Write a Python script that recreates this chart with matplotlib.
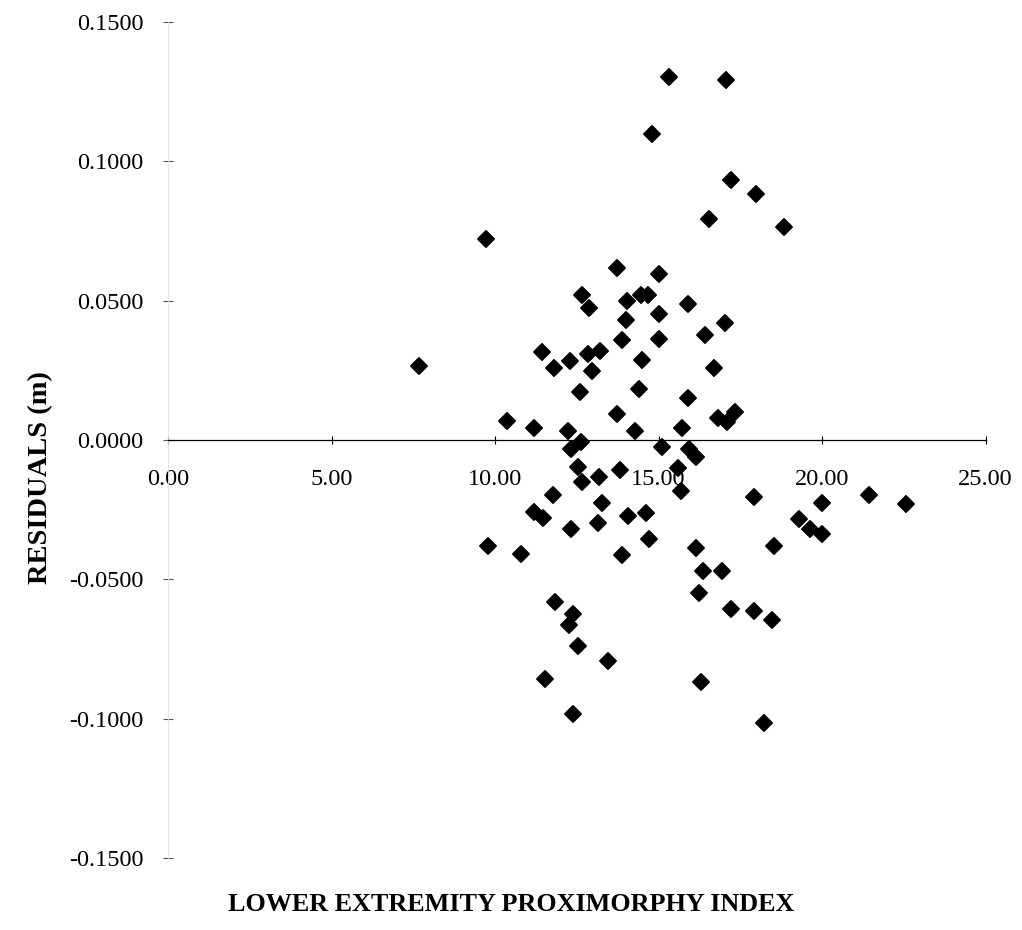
import matplotlib
matplotlib.use("Agg")
import matplotlib.pyplot as plt
from matplotlib.markers import MarkerStyle
from matplotlib.ticker import FormatStrFormatter

plt.rcParams["font.family"] = ["Liberation Serif", "DejaVu Serif"]
plt.rcParams["axes.unicode_minus"] = False

# lower extremity proximorphy index for each subject
proximorphy = [
    15.32, 17.06, 14.80, 17.22, 17.98, 16.54, 18.84, 9.72, 13.73, 15.02,
    12.66, 12.87, 14.04, 14.46, 14.68, 15.02, 14.01, 15.90, 17.03, 16.42,
    13.88, 15.02, 11.44, 12.29, 11.80, 12.84, 13.21, 12.97, 14.50, 16.70,
    7.68, 12.60, 14.40, 15.90, 16.82, 17.09, 17.34, 10.37, 11.19, 12.23,
    13.73, 14.28, 15.72, 12.63, 12.32, 15.11, 15.93, 16.15, 12.54, 12.66,
    13.18, 13.82, 15.60, 15.69, 11.77, 13.27, 11.19, 11.47, 14.07, 14.62,
    12.32, 13.15, 14.71, 9.79, 10.80, 13.88, 17.92, 20.00, 21.44, 22.57,
    19.30, 19.63, 20.00, 16.15, 18.53, 16.36, 16.94, 16.24, 17.22, 17.92,
    18.47, 11.83, 12.39, 12.26, 12.54, 13.46, 11.53, 12.39, 16.30, 18.23,
]

# regression residuals in metres
residuals = [
    0.1303, 0.1292, 0.1098, 0.0933, 0.0883, 0.0793, 0.0765, 0.0721, 0.0617, 0.0596,
    0.0520, 0.0474, 0.0499, 0.0520, 0.0520, 0.0452, 0.0431, 0.0488, 0.0420, 0.0377,
    0.0359, 0.0363, 0.0316, 0.0284, 0.0258, 0.0309, 0.0319, 0.0248, 0.0287, 0.0258,
    0.0266, 0.0172, 0.0183, 0.0151, 0.0079, 0.0065, 0.0101, 0.0068, 0.0043, 0.0032,
    0.0093, 0.0032, 0.0043, -0.0007, -0.0032, -0.0025, -0.0032, -0.0061, -0.0097, -0.0151,
    -0.0133, -0.0108, -0.0101, -0.0183, -0.0197, -0.0226, -0.0258, -0.0280, -0.0273, -0.0262,
    -0.0319, -0.0298, -0.0355, -0.0380, -0.0409, -0.0413, -0.0205, -0.0226, -0.0197, -0.0230,
    -0.0284, -0.0319, -0.0337, -0.0388, -0.0380, -0.0470, -0.0470, -0.0549, -0.0607, -0.0614,
    -0.0646, -0.0581, -0.0625, -0.0664, -0.0739, -0.0793, -0.0858, -0.0983, -0.0869, -0.1016,
]

x_ticks = [0, 5, 10, 15, 20, 25]
y_ticks = [-0.15, -0.10, -0.05, 0.0, 0.05, 0.10, 0.15]


def plot_residuals(x_values, y_values):
    fig = plt.figure(figsize=(10.22, 9.30), dpi=100)
    ax = fig.add_axes([0.1644, 0.0774, 0.8, 0.8989])

    # diamonds with slightly rounded corners
    diamond = MarkerStyle("D", joinstyle="round")
    ax.plot(x_values, y_values, linestyle="none", marker=diamond, markersize=8.0,
            color="black", markeredgewidth=1.4, markeredgecolor="black")

    ax.set_xlim(0, 25)
    ax.set_ylim(-0.15, 0.15)

    # horizontal axis sits on zero, the vertical one is barely visible
    ax.spines["bottom"].set_position(("data", 0))
    ax.spines["bottom"].set_linewidth(0.9)
    ax.spines["left"].set_color("#e2e2e2")
    ax.spines["left"].set_linewidth(0.6)
    ax.spines["top"].set_visible(False)
    ax.spines["right"].set_visible(False)

    ax.set_xticks(x_ticks)
    ax.set_yticks(y_ticks)
    ax.xaxis.set_major_formatter(FormatStrFormatter("%.2f"))
    ax.yaxis.set_major_formatter(FormatStrFormatter("%.4f"))
    ax.tick_params(axis="x", direction="inout", length=6, width=0.8, pad=18,
                   labelsize=17.5)
    ax.tick_params(axis="y", direction="inout", length=7, width=0.8, pad=14,
                   labelsize=17.5, color="#555555")

    # axis titles
    fig.text(0.040, 0.486, "RESIDUALS (m)", rotation=90, ha="center",
             va="center", fontsize=20.5, fontweight="bold")
    fig.text(0.5, 0.027, "LOWER EXTREMITY PROXIMORPHY INDEX", ha="center",
             va="center", fontsize=18.8, fontweight="bold")

    plt.savefig("out.png", dpi=100)


plot_residuals(proximorphy, residuals)
